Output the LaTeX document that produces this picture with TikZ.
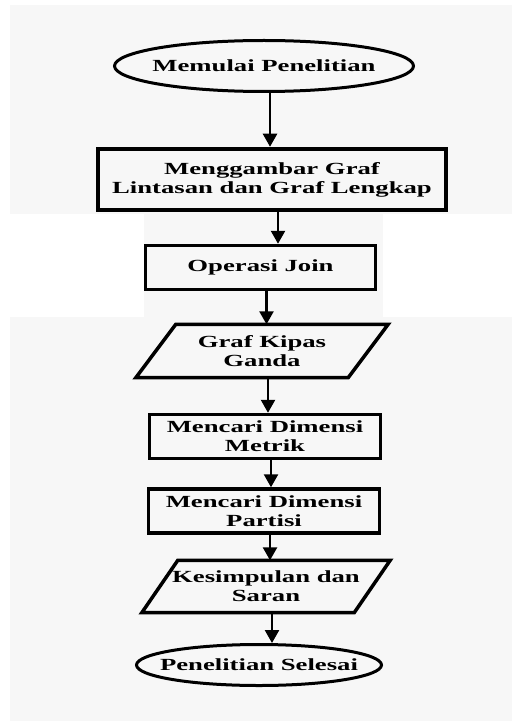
\documentclass[tikz,border=0pt]{standalone}
\usepackage{fontspec}
\setmainfont{Liberation Serif}[FakeStretch=1.57]
\usetikzlibrary{shapes.geometric,arrows.meta}
\definecolor{latar}{HTML}{F7F7F7}

\begin{document}
\begin{tikzpicture}[x=1pt,y=-1pt,
    every node/.style={font=\fontsize{17}{19}\selectfont\bfseries, align=center, inner sep=0pt},
    proses/.style={draw, line width=3.5pt, minimum width=231pt, minimum height=44pt},
    ujung/.style={draw, ellipse, line width=3pt, inner xsep=-20pt},
    jajar/.style={line width=3.5pt, line join=miter},
    garis/.style={line width=2.5pt, -{Triangle[width=14pt,length=13pt]}}]
        \useasboundingbox (0,0) rectangle (512,722);
        \fill[white] (0,0) rectangle (512,722);
        \fill[latar] (10,5) rectangle (512,214);
        \fill[latar] (144,214) rectangle (383,317);
        \fill[latar] (10,317) rectangle (512,721);
        % awal
        \node[ujung, minimum width=299pt, minimum height=51pt] (mulai) at (264,66) {Memulai Penelitian};
        \node[proses, line width=4.5pt, minimum width=348pt, minimum height=61pt] (graf) at (272,179.5) {Menggambar Graf\\Lintasan dan Graf Lengkap};
        \node[proses, minimum width=230pt] (join) at (260.5,267.5) {Operasi Join};
        \node[minimum width=212pt, minimum height=53pt] (kipas) at (262,351) {Graf Kipas\\Ganda};
        \draw[jajar] ([xshift=20pt]kipas.north west) -- ([xshift=20pt]kipas.north east)
            -- ([xshift=-20pt]kipas.south east) -- ([xshift=-20pt]kipas.south west) -- cycle;
        \node[proses] (metrik) at (265,436.5) {Mencari Dimensi\\Metrik};
        \node[proses] (partisi) at (264,511) {Mencari Dimensi\\Partisi};
        \node[minimum width=212pt, minimum height=52pt] (simpul) at (266,586.5) {Kesimpulan dan\\Saran};
        \draw[jajar] ([xshift=18pt]simpul.north west) -- ([xshift=18pt]simpul.north east)
            -- ([xshift=-18pt]simpul.south east) -- ([xshift=-18pt]simpul.south west) -- cycle;
        % akhir
        \node[ujung, minimum width=245pt, minimum height=41pt] (selesai) at (259,665) {Penelitian Selesai};
        \foreach \a/\b in {mulai/graf, graf/join, join/kipas, kipas/metrik, metrik/partisi, partisi/simpul, simpul/selesai}
            \draw[garis] ([xshift=6pt]\a.south) -- ([xshift=6pt]\a.south |- \b.north);
\end{tikzpicture}
\end{document}
